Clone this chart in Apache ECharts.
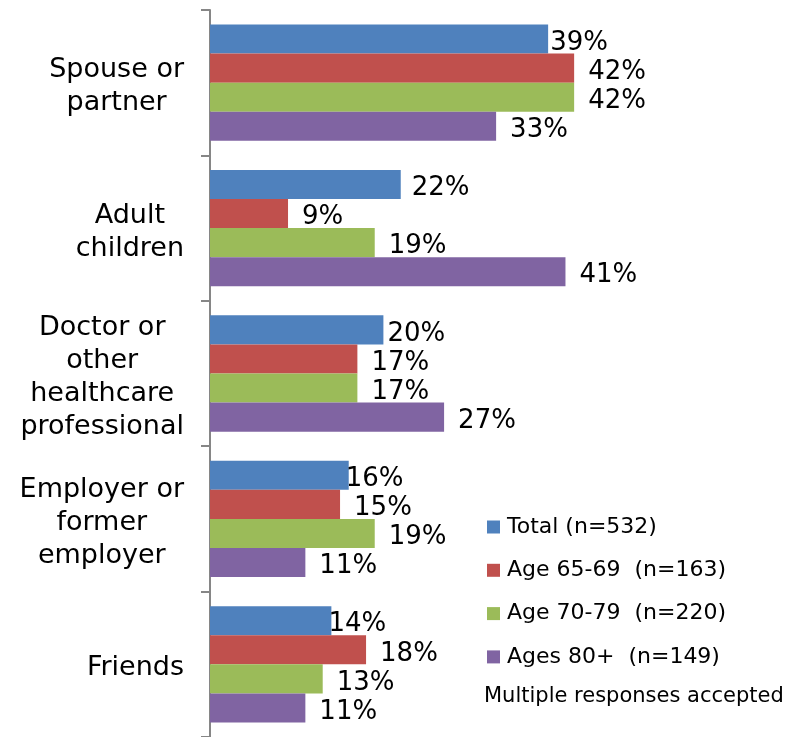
<!DOCTYPE html>
<html>
<head>
<meta charset="utf-8">
<script src="https://cdn.jsdelivr.net/npm/echarts@6/dist/echarts.min.js"></script>
<style>
  html, body { margin: 0; padding: 0; background: #fff; }
  #chart { width: 806px; height: 737px; }
</style>
</head>
<body>
<div id="chart"></div>
<script>
// Who helps with decisions: share of respondents naming each source
const categories = [
  'Spouse or\npartner',
  'Adult\nchildren',
  'Doctor or\nother\nhealthcare\nprofessional',
  'Employer or\nformer\nemployer',
  'Friends'
];
const seriesNames = [
  'Total (n=532)',
  'Age 65-69  (n=163)',
  'Age 70-79  (n=220)',
  'Ages 80+  (n=149)'
];
const totalValues   = [39, 22, 20, 16, 14];
const age6569Values = [42, 9, 17, 15, 18];
const age7079Values = [42, 19, 17, 19, 13];
const age80Values   = [33, 41, 27, 11, 11];
const footnote = 'Multiple responses accepted';

// presentation
const colors = ['#4F81BD', '#C0504D', '#9BBB59', '#8064A2'];
const FONT = 'DejaVu Sans';
// gap between bar end and its label; the Total labels sit closer in
const totalLabelGap = [2, 11, 4, -3, -3];
const otherLabelGap = 14;

function makeSeries(name, values, color, gaps) {
  return {
    name: name,
    type: 'bar',
    barGap: '0%',
    barCategoryGap: '20%',
    itemStyle: { color: color },
    label: {
      show: true,
      position: 'right',
      distance: otherLabelGap,
      offset: [0, 4],
      formatter: '{c}%',
      color: '#000',
      fontFamily: FONT,
      fontSize: 26
    },
    data: values.map((v, i) => gaps
      ? { value: v, label: { distance: gaps[i] } }
      : v)
  };
}

const chart = echarts.init(document.getElementById('chart'), null, { renderer: 'canvas' });
chart.setOption({
  animation: false,
  backgroundColor: '#fff',
  color: colors,
  grid: { left: 210, top: 10, width: 433.5, bottom: -3, containLabel: false },
  xAxis: {
    type: 'value',
    min: 0,
    max: 50,
    show: false
  },
  yAxis: {
    type: 'category',
    inverse: true,
    data: categories,
    axisLine: { show: true, lineStyle: { color: '#868686', width: 2 } },
    axisTick: { show: true, length: 9, lineStyle: { color: '#868686', width: 2 } },
    axisLabel: {
      margin: 26,
      align: 'right',
      padding: [8, 0, 0, 0],
      formatter: v => v.split('\n').map(l => '{c|' + l + '}').join('\n'),
      rich: {
        c: { align: 'center', fontFamily: FONT, fontSize: 27, lineHeight: 33, color: '#000' }
      }
    }
  },
  legend: {
    orient: 'vertical',
    left: 487,
    top: 516,
    padding: 0,
    itemWidth: 13,
    itemHeight: 13,
    itemGap: 21.3,
    icon: 'rect',
    textStyle: { fontFamily: FONT, fontSize: 22, lineHeight: 22, color: '#000', padding: [0, 0, 0, 2] },
    data: seriesNames
  },
  graphic: [{
    type: 'text',
    left: 484,
    top: 686,
    style: { text: footnote, fontFamily: FONT, fontSize: 21, fill: '#000' }
  }],
  series: [
    makeSeries(seriesNames[0], totalValues, colors[0], totalLabelGap),
    makeSeries(seriesNames[1], age6569Values, colors[1]),
    makeSeries(seriesNames[2], age7079Values, colors[2]),
    makeSeries(seriesNames[3], age80Values, colors[3])
  ]
});
</script>
</body>
</html>
